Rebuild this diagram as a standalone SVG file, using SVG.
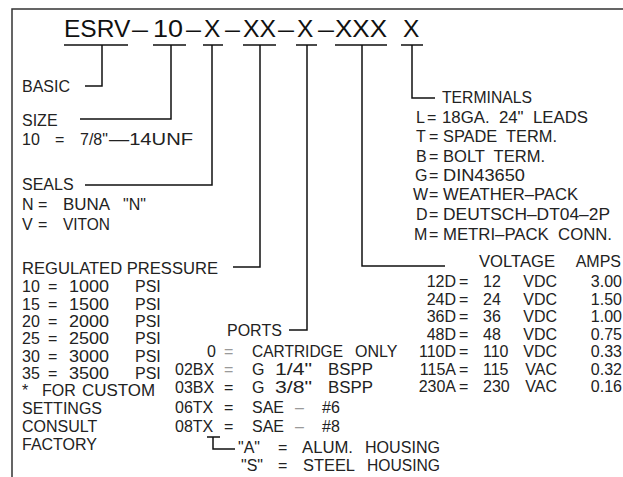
<svg xmlns="http://www.w3.org/2000/svg" width="623" height="477" viewBox="0 0 623 477">
<style>
text{font-family:"Liberation Sans",Arial,sans-serif;font-size:16px;fill:#222}
.ti{font-size:24.5px;fill:#111}
.ln{stroke:#111;stroke-width:1.5;fill:none}
.fr{stroke:#333;stroke-width:1.5;fill:none}
.gr{fill:#9a9a9a}
.e{text-anchor:end}
</style>
<rect width="623" height="477" fill="#fff"/>
<path class="fr" d="M12,480 V9 H630"/>
<g id="title">
<text class="ti" x="64" y="37">ESRV</text>
<text class="ti" x="132" y="37" textLength="16" lengthAdjust="spacingAndGlyphs">–</text>
<text class="ti" x="153" y="37" textLength="30" lengthAdjust="spacingAndGlyphs">10</text>
<text class="ti" x="186" y="37" textLength="15" lengthAdjust="spacingAndGlyphs">–</text>
<text class="ti" x="204" y="37">X</text>
<text class="ti" x="225" y="37" textLength="15" lengthAdjust="spacingAndGlyphs">–</text>
<text class="ti" x="243" y="37" textLength="33" lengthAdjust="spacingAndGlyphs">XX</text>
<text class="ti" x="278" y="37" textLength="16" lengthAdjust="spacingAndGlyphs">–</text>
<text class="ti" x="297" y="37">X</text>
<text class="ti" x="318" y="37" textLength="16" lengthAdjust="spacingAndGlyphs">–</text>
<text class="ti" x="335" y="37" textLength="52" lengthAdjust="spacingAndGlyphs">XXX</text>
<text class="ti" x="403" y="37">X</text>
</g>
<g id="connectors">
<path class="ln" d="M64,45 H128 M153,45 H186 M203,45 H223 M243,45 H276 M296,45 H317 M335,45 H387 M401,45 H423"/>
<path class="ln" d="M102,45 V86 H85"/>
<path class="ln" d="M171,45 V119 H80"/>
<path class="ln" d="M212,45 V185 H85"/>
<path class="ln" d="M260,45 V267 H233"/>
<path class="ln" d="M307,45 V330 H289"/>
<path class="ln" d="M362,45 V266 H445"/>
<path class="ln" d="M412,45 V98 H435"/>
<path class="ln" d="M207,437 H220 M213,437 V449 H235"/>
</g>
<g id="basic">
<text x="22" y="92">BASIC</text>
</g>
<g id="size">
<text x="22" y="126">SIZE</text>
<text y="145"><tspan x="22">10</tspan><tspan x="55">=</tspan><tspan x="80">7/8"</tspan><tspan x="109" textLength="84" lengthAdjust="spacingAndGlyphs">—14UNF</tspan></text>
</g>
<g id="seals">
<text x="22" y="190">SEALS</text>
<text y="210"><tspan x="22">N</tspan><tspan x="38">=</tspan><tspan x="63" textLength="47" lengthAdjust="spacingAndGlyphs">BUNA</tspan><tspan x="123">"N"</tspan></text>
<text y="230"><tspan x="22">V</tspan><tspan x="38">=</tspan><tspan x="63" textLength="47" lengthAdjust="spacingAndGlyphs">VITON</tspan></text>
</g>
<g id="pressure">
<text x="22" y="274" textLength="196" lengthAdjust="spacingAndGlyphs">REGULATED  PRESSURE</text>
<text y="292"><tspan x="22">10</tspan><tspan x="48">=</tspan><tspan x="69" textLength="40" lengthAdjust="spacingAndGlyphs">1000</tspan><tspan x="135">PSI</tspan></text>
<text y="310"><tspan x="22">15</tspan><tspan x="48">=</tspan><tspan x="69" textLength="40" lengthAdjust="spacingAndGlyphs">1500</tspan><tspan x="135">PSI</tspan></text>
<text y="327"><tspan x="22">20</tspan><tspan x="48">=</tspan><tspan x="69" textLength="40" lengthAdjust="spacingAndGlyphs">2000</tspan><tspan x="135">PSI</tspan></text>
<text y="344"><tspan x="22">25</tspan><tspan x="48">=</tspan><tspan x="69" textLength="40" lengthAdjust="spacingAndGlyphs">2500</tspan><tspan x="135">PSI</tspan></text>
<text y="362"><tspan x="22">30</tspan><tspan x="48">=</tspan><tspan x="69" textLength="40" lengthAdjust="spacingAndGlyphs">3000</tspan><tspan x="135">PSI</tspan></text>
<text y="379"><tspan x="22">35</tspan><tspan x="48">=</tspan><tspan x="69" textLength="40" lengthAdjust="spacingAndGlyphs">3500</tspan><tspan x="135">PSI</tspan></text>
<text y="396"><tspan x="22">*</tspan><tspan x="42">FOR</tspan><tspan x="82" textLength="73" lengthAdjust="spacingAndGlyphs">CUSTOM</tspan></text>
<text x="22" y="414">SETTINGS</text>
<text x="22" y="432">CONSULT</text>
<text x="22" y="450">FACTORY</text>
</g>
<g id="ports">
<text x="227" y="336">PORTS</text>
<text y="357"><tspan x="207">0</tspan><tspan x="224" class="gr">=</tspan><tspan x="252" textLength="91" lengthAdjust="spacingAndGlyphs">CARTRIDGE</tspan><tspan x="355">ONLY</tspan></text>
<text y="375"><tspan x="175">02BX</tspan><tspan x="224" class="gr">=</tspan><tspan x="252">G</tspan><tspan x="275" textLength="37" lengthAdjust="spacingAndGlyphs">1/4"</tspan><tspan x="328" textLength="45" lengthAdjust="spacingAndGlyphs">BSPP</tspan></text>
<text y="393"><tspan x="175">03BX</tspan><tspan x="224">=</tspan><tspan x="252">G</tspan><tspan x="275" textLength="37" lengthAdjust="spacingAndGlyphs">3/8"</tspan><tspan x="328" textLength="45" lengthAdjust="spacingAndGlyphs">BSPP</tspan></text>
<text y="413"><tspan x="175">06TX</tspan><tspan x="224">=</tspan><tspan x="252">SAE</tspan><tspan x="295" class="gr">–</tspan><tspan x="322">#6</tspan></text>
<text y="432"><tspan x="175">08TX</tspan><tspan x="224">=</tspan><tspan x="252">SAE</tspan><tspan x="295" class="gr">–</tspan><tspan x="322">#8</tspan></text>
</g>
<g id="housing">
<text y="453"><tspan x="238">"A"</tspan><tspan x="278">=</tspan><tspan x="302" textLength="51" lengthAdjust="spacingAndGlyphs">ALUM.</tspan><tspan x="365" textLength="75" lengthAdjust="spacingAndGlyphs">HOUSING</tspan></text>
<text y="471"><tspan x="241">"S"</tspan><tspan x="278">=</tspan><tspan x="303" textLength="52" lengthAdjust="spacingAndGlyphs">STEEL</tspan><tspan x="367" textLength="73" lengthAdjust="spacingAndGlyphs">HOUSING</tspan></text>
</g>
<g id="voltage">
<text x="479" y="267" textLength="76" lengthAdjust="spacingAndGlyphs">VOLTAGE</text>
<text x="621" y="267" class="e">AMPS</text>
<text y="287"><tspan x="456" class="e">12D</tspan><tspan x="459">=</tspan><tspan x="483">12</tspan><tspan x="557" class="e">VDC</tspan><tspan x="622" class="e">3.00</tspan></text>
<text y="305"><tspan x="456" class="e">24D</tspan><tspan x="459">=</tspan><tspan x="483">24</tspan><tspan x="557" class="e">VDC</tspan><tspan x="622" class="e">1.50</tspan></text>
<text y="322"><tspan x="456" class="e">36D</tspan><tspan x="459">=</tspan><tspan x="483">36</tspan><tspan x="557" class="e">VDC</tspan><tspan x="622" class="e">1.00</tspan></text>
<text y="340"><tspan x="456" class="e">48D</tspan><tspan x="459">=</tspan><tspan x="483">48</tspan><tspan x="557" class="e">VDC</tspan><tspan x="622" class="e">0.75</tspan></text>
<text y="357"><tspan x="456" class="e">110D</tspan><tspan x="459">=</tspan><tspan x="483">110</tspan><tspan x="557" class="e">VDC</tspan><tspan x="622" class="e">0.33</tspan></text>
<text y="375"><tspan x="456" class="e">115A</tspan><tspan x="459">=</tspan><tspan x="483">115</tspan><tspan x="557" class="e">VAC</tspan><tspan x="622" class="e">0.32</tspan></text>
<text y="392"><tspan x="456" class="e">230A</tspan><tspan x="459">=</tspan><tspan x="483">230</tspan><tspan x="557" class="e">VAC</tspan><tspan x="622" class="e">0.16</tspan></text>
</g>
<g id="terminals">
<text x="442" y="103" textLength="90" lengthAdjust="spacingAndGlyphs">TERMINALS</text>
<text y="123"><tspan x="416">L</tspan><tspan x="427">=</tspan><tspan x="442" textLength="146" lengthAdjust="spacingAndGlyphs" xml:space="preserve">18GA.  24"  LEADS</tspan></text>
<text y="142"><tspan x="416">T</tspan><tspan x="429">=</tspan><tspan x="443" textLength="114" lengthAdjust="spacingAndGlyphs" xml:space="preserve">SPADE  TERM.</tspan></text>
<text y="162"><tspan x="416">B</tspan><tspan x="429">=</tspan><tspan x="443" textLength="102" lengthAdjust="spacingAndGlyphs" xml:space="preserve">BOLT  TERM.</tspan></text>
<text y="181"><tspan x="415">G</tspan><tspan x="429">=</tspan><tspan x="443" textLength="82" lengthAdjust="spacingAndGlyphs">DIN43650</tspan></text>
<text y="200"><tspan x="413">W</tspan><tspan x="429">=</tspan><tspan x="443" textLength="135" lengthAdjust="spacingAndGlyphs">WEATHER–PACK</tspan></text>
<text y="220"><tspan x="416">D</tspan><tspan x="429">=</tspan><tspan x="443" textLength="167" lengthAdjust="spacingAndGlyphs">DEUTSCH–DT04–2P</tspan></text>
<text y="240"><tspan x="414">M</tspan><tspan x="429">=</tspan><tspan x="443" textLength="169" lengthAdjust="spacingAndGlyphs" xml:space="preserve">METRI–PACK  CONN.</tspan></text>
</g>
</svg>
